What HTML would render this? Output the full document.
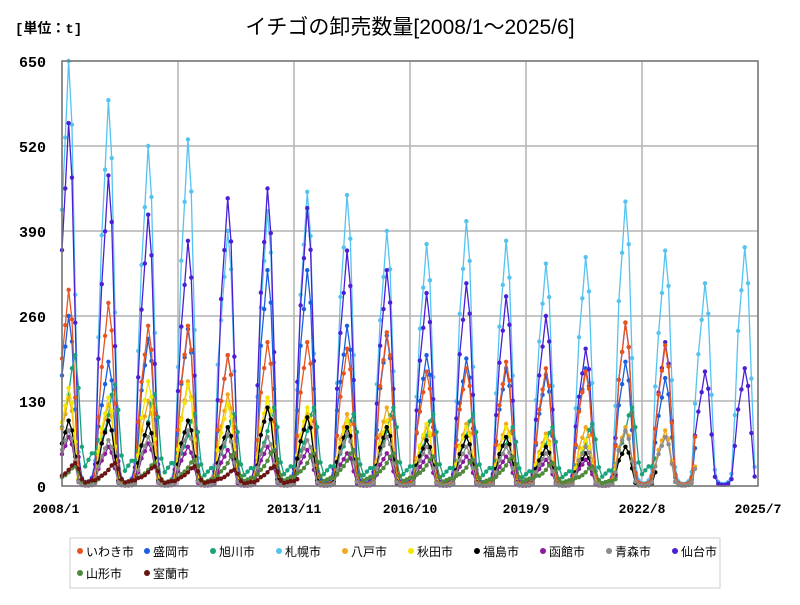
<!DOCTYPE html>
<html><head><meta charset="utf-8"><style>
body{margin:0;background:#fff;font-family:"Liberation Sans","Noto Sans CJK JP",sans-serif}
</style></head><body>
<svg id="c" width="800" height="600" xmlns="http://www.w3.org/2000/svg">
<rect width="800" height="600" fill="#fff"/>
<text x="15" y="33" font-size="14" font-weight="bold" font-family="Liberation Mono,Noto Sans CJK JP,monospace">[単位：t]</text>
<text x="410" y="34" font-size="21" text-anchor="middle" font-family="Liberation Sans,Noto Sans CJK JP,sans-serif">イチゴの卸売数量[2008/1～2025/6]</text>
<g id="grid"></g><g id="series"></g>
<rect x="62" y="61" width="696" height="425" fill="none" stroke="#777" stroke-width="1.5"/>
<rect x="70" y="538" width="650" height="50" fill="#fff" stroke="#ccc"/>
<g id="legend"></g>
</svg>
<script>
const names=["いわき市","盛岡市","旭川市","札幌市","八戸市","秋田市","福島市","函館市","青森市","仙台市","山形市","室蘭市"];
const colors=["#e8541e","#1a5fe0","#1aa37a","#55c3f0","#f2a81d","#f5e600","#000000","#8b1a9e","#8c8c8c","#4a1fd6","#4f8a3c","#6b1414"];
const years=[2008,2009,2010,2011,2012,2013,2014,2015,2016,2017,2018,2019,2020,2021,2022,2023,2024,2025];
const peakIwaki=[300,280,245,245,200,220,220,210,235,175,180,190,180,175,250,215,null,null];
const peakMorioka=[260,190,225,240,200,330,330,245,230,200,195,180,170,180,190,165,null,null];
const peakAsahikawa=[200,155,140,110,110,120,120,110,120,110,110,90,90,95,120,null,null,null];
const peakSapporo=[650,590,520,530,390,420,450,445,390,370,405,375,340,350,435,360,310,365];
const peakHachinohe=[135,125,130,160,140,135,110,110,120,90,95,95,80,90,90,85,null,null];
const peakAkita=[150,135,160,155,125,135,120,100,100,95,90,90,75,70,60,null,null,null];
const peakFukushima=[100,100,95,100,90,120,105,90,90,70,75,75,60,50,60,null,null,null];
const peakHakodate=[75,60,65,60,55,60,55,50,50,45,45,45,40,40,null,null,null,null];
const peakAomori=[85,70,75,85,80,75,70,80,75,60,60,60,50,60,85,75,null,null];
const peakSendai=[555,475,415,375,440,455,425,360,330,295,310,290,260,210,250,220,175,180];
const peakYamagata=[30,35,35,40,50,55,50,55,50,45,40,45,35,30,null,null,null,null];
const peakMuroran=[35,35,30,30,25,30,null,null,null,null,null,null,null,null,null,null,null,null];
const profileWinter=[0.65,0.82,1.0,0.85,0.45,0.08,0.02,0.01,0.01,0.02,0.06,0.35];
const profileSpring=[0.45,0.55,0.7,0.9,1.0,0.75,0.3,0.15,0.2,0.25,0.25,0.35];
const peaks=[peakIwaki,peakMorioka,peakAsahikawa,peakSapporo,peakHachinohe,peakAkita,peakFukushima,peakHakodate,peakAomori,peakSendai,peakYamagata,peakMuroran];
const profiles=[profileWinter,profileWinter,profileSpring,profileWinter,profileWinter,profileWinter,profileWinter,profileWinter,profileWinter,profileWinter,profileSpring,profileSpring];
const yTicks=[0,130,260,390,520,650];
const xTickLabels=["2008/1","2010/12","2013/11","2016/10","2019/9","2022/8","2025/7"];
const xTickIdx=[0,35,70,105,140,175,210];
const NS="http://www.w3.org/2000/svg";
const X0=62,X1=758,Y0=486,Y1=61,NM=210;
const xs=i=>X0+(X1-X0)*i/NM;
const ys=v=>Y0-(Y0-Y1)*v/650;
function mk(t,a,p){const e=document.createElementNS(NS,t);for(const k in a)e.setAttribute(k,a[k]);p.appendChild(e);return e;}
const grid=document.getElementById('grid');
yTicks.forEach(v=>{
 const l=mk('line',{x1:X0,x2:X1,y1:ys(v),y2:ys(v),stroke:'#b4b4b4','stroke-width':1.5},grid);
 
 
 const t=mk('text',{x:46,y:ys(v)+6,'text-anchor':'end','font-size':15,'font-weight':'bold','font-family':'Liberation Mono,monospace'},grid);
 t.textContent=v;
 
 
});
xTickIdx.forEach((m,i)=>{
 const l=mk('line',{x1:xs(m),x2:xs(m),y1:Y1,y2:Y0,stroke:'#b4b4b4','stroke-width':1.5},grid);
 
 
 const t=mk('text',{x:xs(m)-(i==0?6:0),y:513,'text-anchor':'middle','font-size':13,'font-weight':'bold','font-family':'Liberation Mono,monospace'},grid);
 t.textContent=xTickLabels[i];
 
 
});
const sg=document.getElementById('series');
[3,9,1,0,2,4,5,6,7,8,10,11].forEach(s=>{
 const pts=[];
 for(let m=0;m<NM;m++){
  const y=Math.floor(m/12),mo=m%12;
  const pk=peaks[s][y];
  if(pk==null)continue;
  pts.push([xs(m),ys(pk*profiles[s][mo])]);
 }
 const g=mk('g',{},sg);
 
 
 const pl=mk('polyline',{points:pts.map(p=>p.join(',')).join(' '),fill:'none',stroke:colors[s],'stroke-width':1.3},g);
 
 
 pts.forEach(p=>{
  const c=mk('circle',{cx:p[0],cy:p[1],r:2.2,fill:colors[s]},g);
  
  
 });
});
const lg=document.getElementById('legend');
const lx=[80,147,213,279,345,411,477,543,609,675,80,147];
names.forEach((n,i)=>{
 const y=i<10?551:573;
 const g=mk('g',{},lg);
 
 
 mk('circle',{cx:lx[i],cy:y,r:3,fill:colors[i]},g);
 const t=mk('text',{x:lx[i]+6,y:y+5,'font-size':12},g);
 t.textContent=n;
});
</script>
</body></html>
